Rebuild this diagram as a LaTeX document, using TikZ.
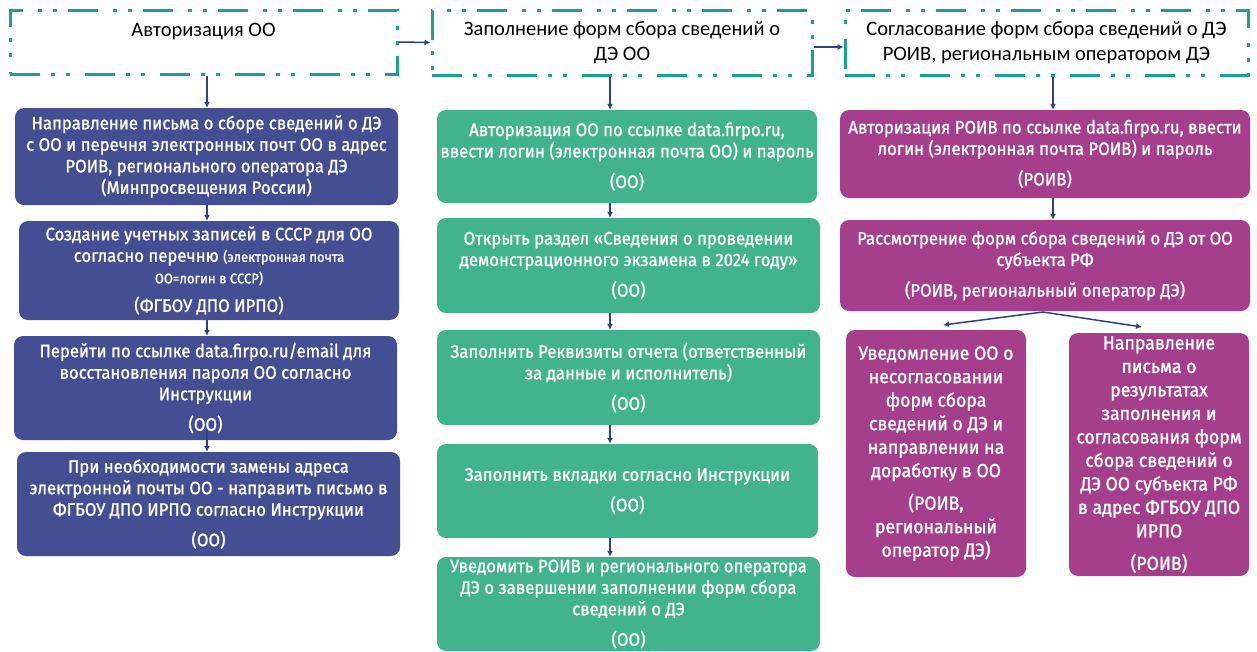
\documentclass[tikz,border=0pt]{standalone}
\usepackage{fontspec}
\usetikzlibrary{arrows.meta}
\newfontfamily\boxfont[FakeStretch=0.93,FakeBold=1.2]{Fira Sans}
\newfontfamily\hdrfont{Carlito}
\definecolor{cblue}{HTML}{434E93}
\definecolor{cgreen}{HTML}{41B48E}
\definecolor{cpurple}{HTML}{A63F8B}
\definecolor{cteal}{HTML}{17A392}
\definecolor{carrow}{HTML}{2F3F8E}
\tikzset{
  hdr/.style={draw=cteal, line width=3pt, dash pattern=on 30pt off 11pt on 4pt off 11pt on 4pt off 15pt,
    inner sep=0pt, align=center, font=\hdrfont\fontsize{20.5}{25}\selectfont, text=black},
  bx/.style={rounded corners=9pt, inner sep=0pt, align=center, text=white,
    font=\boxfont\fontsize{18}{21.5}\selectfont},
  bbox/.style={bx, fill=cblue},
  gbox/.style={bx, fill=cgreen},
  pbox/.style={bx, fill=cpurple},
  arr/.style={draw=carrow, line width=1.5pt, -{Latex[length=6pt,width=6pt]}},
}
\begin{document}
\begin{tikzpicture}[x=1pt,y=-1pt]
\useasboundingbox (0,0) rectangle (1257,651);
% headers
\node[hdr, minimum width=387pt, minimum height=64pt] (h1) at (203.5,42) {Авторизация ОО\\ \mbox{}};
\node[hdr, minimum width=380pt, minimum height=65pt] (h2) at (622,42.5) {Заполнение форм сбора сведений о\\ ДЭ ОО};
\node[hdr, minimum width=403pt, minimum height=65pt] (h3) at (1046.5,42.5) {Согласование форм сбора сведений о ДЭ\\ РОИВ, региональным оператором ДЭ};
% left column
\node[bbox, minimum width=383pt, minimum height=97pt] (l1) at (206.5,156.5) {Направление письма о сборе сведений о ДЭ\\ с ОО и перечня электронных почт ОО в адрес\\ РОИВ, регионального оператора ДЭ\\ (Минпросвещения России)};
\node[bbox, minimum width=380pt, minimum height=99pt] (l2) at (209,270.5) {Создание учетных записей в СССР для ОО\\ согласно перечню {\fontsize{14}{19}\selectfont (электронная почта}\\ {\fontsize{14}{19}\selectfont ОО=логин в СССР)}\\[7pt] (ФГБОУ ДПО ИРПО)};
\node[bbox, minimum width=383pt, minimum height=104pt] (l3) at (205.5,388) {Перейти по ссылке data.firpo.ru/email для\\ восстановления пароля ОО согласно\\ Инструкции\\[9pt] (ОО)};
\node[bbox, minimum width=383pt, minimum height=104pt] (l4) at (208.5,504) {При необходимости замены адреса\\ электронной почты ОО - направить письмо в\\ ФГБОУ ДПО ИРПО согласно Инструкции\\[9pt] (ОО)};
% middle column
\node[gbox, minimum width=380pt, minimum height=93pt] (m1) at (627,156.5) {Авторизация ОО по ссылке data.firpo.ru,\\ ввести логин (электронная почта ОО) и пароль\\[9pt] (ОО)};
\node[gbox, minimum width=383pt, minimum height=95pt] (m2) at (628.5,265.5) {Открыть раздел «Сведения о проведении\\ демонстрационного экзамена в 2024 году»\\[9pt] (ОО)};
\node[gbox, minimum width=383pt, minimum height=95pt] (m3) at (628.5,377.5) {Заполнить Реквизиты отчета (ответственный\\ за данные и исполнитель)\\[9pt] (ОО)};
\node[gbox, minimum width=381pt, minimum height=94pt] (m4) at (627.5,491) {Заполнить вкладки согласно Инструкции\\[9pt] (ОО)};
\node[gbox, minimum width=383pt, minimum height=94pt] (m5) at (628.5,604) {Уведомить РОИВ и регионального оператора\\ ДЭ о завершении заполнении форм сбора\\ сведений о ДЭ\\[9pt] (ОО)};
% right column
\node[pbox, minimum width=410pt, minimum height=88pt] (r1) at (1045,154) {Авторизация РОИВ по ссылке data.firpo.ru, ввести\\ логин (электронная почта РОИВ) и пароль\\[9pt] (РОИВ)};
\node[pbox, minimum width=410pt, minimum height=91pt] (r2) at (1045,265.5) {Рассмотрение форм сбора сведений о ДЭ от ОО\\ субъекта РФ\\[9pt] (РОИВ, региональный оператор ДЭ)};
\node[pbox, minimum width=180pt, minimum height=247pt, font=\boxfont\fontsize{19}{23.5}\selectfont] (r3) at (936,453.5) {Уведомление ОО о\\ несогласовании\\ форм сбора\\ сведений о ДЭ и\\ направлении на\\ доработку в ОО\\[9pt] (РОИВ,\\ региональный\\ оператор ДЭ)};
\node[pbox, minimum width=180pt, minimum height=243pt, font=\boxfont\fontsize{19}{23.5}\selectfont] (r4) at (1159,454.5) {Направление\\ письма о\\ результатах\\ заполнения и\\ согласования форм\\ сбора сведений о\\ ДЭ ОО субъекта РФ\\ в адрес ФГБОУ ДПО\\ ИРПО\\[9pt] (РОИВ)};
% arrow columns
\coordinate (xl) at (207,0);
\coordinate (xm) at (610,0);
\coordinate (xr) at (1053,0);
\coordinate (split) at (1043,312);
\coordinate (tl) at (943,325);
\coordinate (tr) at (1142,327);
% header arrows
\draw[arr] (h1.east) -- (h2.west);
\draw[arr] ([yshift=-4.5pt]h2.east) -- ([yshift=-4.5pt]h3.west);
\draw[arr] (h1.south -| xl) -- (l1.north -| xl);
\draw[arr] (h2.south -| xm) -- (m1.north -| xm);
\draw[arr] (h3.south -| xr) -- (r1.north -| xr);
% left
\draw[arr] (l1.south -| xl) -- (l2.north -| xl);
\draw[arr] (l2.south -| xl) -- (l3.north -| xl);
\draw[arr] ([yshift=10pt]l3.south -| xl) -- (l4.north -| xl);
% middle
\draw[arr] (m1.south -| xm) -- (m2.north -| xm);
\draw[arr] (m2.south -| xm) -- (m3.north -| xm);
\draw[arr] (m3.south -| xm) -- (m4.north -| xm);
\draw[arr] (m4.south -| xm) -- (m5.north -| xm);
% right
\draw[arr] (r1.south -| xr) -- (r2.north -| xr);
\draw[arr] (split) -- (tl);
\draw[arr] (split) -- (tr);
\end{tikzpicture}
\end{document}
